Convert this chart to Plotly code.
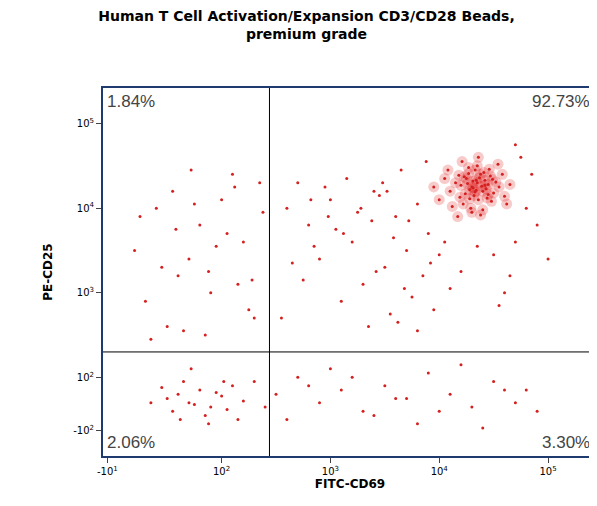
import plotly.graph_objects as go

# values are in display units (decade position on the biexponential axis)
cluster_x = [4.30, 4.35, 4.40, 4.25, 4.45, 4.32, 4.38, 4.28, 4.42, 4.50, 4.20, 4.33, 4.36, 4.47, 4.22, 4.31,
             4.39, 4.44, 4.27, 4.34, 4.15, 4.55, 4.29, 4.41, 4.37, 4.24, 4.48, 4.18, 4.52, 4.35, 4.26, 4.43,
             4.10, 4.60, 4.05, 4.30, 4.46, 4.12, 4.58, 4.21, 4.40, 4.33, 4.00, 4.65, 4.36, 4.28, 4.49, 4.17,
             3.95, 4.08, 4.62, 4.23, 4.54, 4.38, 4.31, 4.45, 4.19, 4.27, 4.42, 4.34]
cluster_y = [4.25, 4.30, 4.20, 4.35, 4.28, 4.15, 4.40, 4.22, 4.33, 4.18, 4.27, 4.45, 4.10, 4.38, 4.05, 4.32,
             4.26, 4.12, 4.48, 4.21, 4.30, 4.25, 4.00, 4.42, 4.36, 4.17, 4.08, 4.39, 4.31, 4.50, 4.29, 4.23,
             4.20, 4.14, 4.35, 3.95, 4.46, 4.02, 4.40, 4.55, 3.98, 4.19, 4.10, 4.28, 4.60, 4.11, 4.34, 3.90,
             4.25, 4.45, 4.05, 4.37, 4.52, 3.92, 4.24, 4.16, 4.13, 4.41, 4.27, 4.33]

upper_x = [2.60, 2.80, 3.00, 3.20, 3.40, 3.60, 3.80, 3.90, 3.70, 3.50, 3.30, 3.10, 2.90, 2.70, 2.55, 3.85,
           3.95, 4.70, 4.80, 4.90, 5.00, 4.75, 4.85, 3.65, 3.45, 3.25, 3.05, 2.85, 2.65, 3.75, 3.55, 3.35,
           3.15, 2.95, 2.75, 4.00, 4.10, 4.60, 4.70, 4.55, 3.88, 3.72, 3.58, 3.42, 3.28, 3.12, 2.98, 2.82,
           3.62, 3.48, 3.92, 4.05, 4.20, 4.35, 4.50, 4.65, 3.80, 3.68, 3.52, 3.38]
upper_y = [4.00, 3.80, 4.10, 3.60, 4.20, 3.90, 4.05, 3.70, 3.50, 3.30, 3.10, 2.90, 3.40, 4.30, 2.70, 3.20,
           2.80, 3.60, 4.00, 3.80, 3.40, 4.60, 4.40, 4.45, 4.15, 3.95, 3.75, 3.55, 3.35, 2.95, 2.75, 2.60,
           4.35, 4.25, 3.15, 3.45, 3.05, 3.00, 4.75, 2.85, 4.55, 3.85, 3.65, 3.25, 4.00, 3.70, 3.90, 4.10,
           2.65, 4.30, 3.35, 3.60, 3.25, 3.55, 3.45, 3.20, 2.55, 3.05, 4.20, 3.85]

ul_x = [1.20, 1.40, 1.60, 1.80, 2.00, 2.20, 2.35, 1.30, 1.50, 1.70, 1.90, 2.10, 2.30, 1.25, 1.55, 1.85,
        2.15, 1.45, 1.75, 2.05, 2.25, 1.65, 1.95, 2.38, 1.35, 2.12, 1.88, 1.58, 2.28, 1.72]
ul_y = [3.50, 4.00, 3.20, 3.80, 4.10, 3.60, 4.30, 2.90, 2.60, 3.40, 3.00, 4.40, 2.70, 3.90, 4.20, 2.50,
        3.10, 3.30, 4.05, 3.70, 2.80, 2.55, 3.55, 3.95, 2.45, 4.25, 3.25, 3.75, 3.15, 4.45]

low_x = [1.50, 1.60, 1.70, 1.80, 1.90, 2.00, 2.10, 2.20, 1.55, 1.65, 1.75, 1.85, 1.95, 2.05, 2.15, 1.45,
         1.35, 2.30, 2.50, 2.70, 2.90, 3.10, 3.30, 3.50, 3.70, 3.90, 4.10, 4.30, 4.50, 4.70, 2.60, 3.00,
         3.40, 3.80, 4.20, 4.60, 2.40, 2.80, 3.20, 3.60, 4.00, 4.40, 4.80, 1.72, 1.88, 1.62, 2.02, 4.90]
low_y = [1.75, 1.80, 1.70, 1.85, 1.65, 1.78, 1.90, 1.72, 1.60, 1.95, 1.68, 1.55, 1.82, 1.62, 1.50, 1.88,
         1.70, 1.95, 1.80, 2.00, 1.70, 1.85, 1.60, 1.90, 1.75, 2.05, 1.80, 1.65, 1.95, 1.70, 1.50, 2.10,
         1.55, 1.45, 2.15, 1.85, 1.65, 1.90, 2.00, 1.75, 1.60, 1.40, 1.85, 2.10, 1.45, 1.50, 1.95, 1.60]

x_tickvals = [0.95, 2, 3, 4, 5]
x_ticktext = ["-10<sup>1</sup>", "10<sup>2</sup>", "10<sup>3</sup>", "10<sup>4</sup>", "10<sup>5</sup>"]
y_tickvals = [1.37, 2, 3, 4, 5]
y_ticktext = ["-10<sup>2</sup>", "10<sup>2</sup>", "10<sup>3</sup>", "10<sup>4</sup>", "10<sup>5</sup>"]

gate_x = 2.44
gate_y = 2.30
quadrant_labels = ["1.84%", "92.73%", "2.06%", "3.30%"]

fig = go.Figure()
# dense core drawn as soft blobs plus points
fig.add_trace(go.Scatter(x=cluster_x, y=cluster_y, mode="markers",
                         marker=dict(color="rgba(225,20,20,0.22)", size=11), hoverinfo="skip"))
for xs, ys in [(cluster_x, cluster_y), (upper_x, upper_y), (ul_x, ul_y), (low_x, low_y)]:
    fig.add_trace(go.Scatter(x=xs, y=ys, mode="markers",
                             marker=dict(color="#d42020", size=3)))

fig.add_shape(type="line", x0=gate_x, x1=gate_x, y0=1.07, y1=5.42, line=dict(color="black", width=1))
fig.add_shape(type="line", x0=0.91, x1=5.45, y0=gate_y, y1=gate_y, line=dict(color="black", width=1))

pos = [(0.93, 5.40, "left", "top"), (5.40, 5.40, "right", "top"),
       (0.93, 1.09, "left", "bottom"), (5.40, 1.09, "right", "bottom")]
for (x, y, xa, ya), t in zip(pos, quadrant_labels):
    fig.add_annotation(x=x, y=y, text=t, showarrow=False, xanchor=xa, yanchor=ya,
                       font=dict(size=17, color="#444444", family="Liberation Sans"))

fig.update_layout(
    width=597, height=506, showlegend=False,
    plot_bgcolor="white", paper_bgcolor="white",
    margin=dict(l=95, r=6, t=80, b=58),
    title=dict(text="<b>Human T Cell Activation/Expansion CD3/CD28 Beads,<br>premium grade</b>",
               x=0.5, y=0.975, font=dict(size=14, color="black", family="DejaVu Sans")),
    font=dict(family="DejaVu Sans", color="black"),
)
fig.update_xaxes(range=[0.91, 5.45], tickvals=x_tickvals, ticktext=x_ticktext, showgrid=False,
                 zeroline=False, showline=True, linecolor="#1f3a6e", linewidth=2, mirror=True,
                 ticks="outside", tickfont=dict(size=10),
                 title=dict(text="<b>FITC-CD69</b>", font=dict(size=12), standoff=2))
fig.update_yaxes(range=[1.07, 5.42], tickvals=y_tickvals, ticktext=y_ticktext, showgrid=False,
                 zeroline=False, showline=True, linecolor="#1f3a6e", linewidth=2, mirror=True,
                 ticks="outside", tickfont=dict(size=10),
                 title=dict(text="<b>PE-CD25</b>", font=dict(size=12), standoff=18))

fig.write_html("out.html")
